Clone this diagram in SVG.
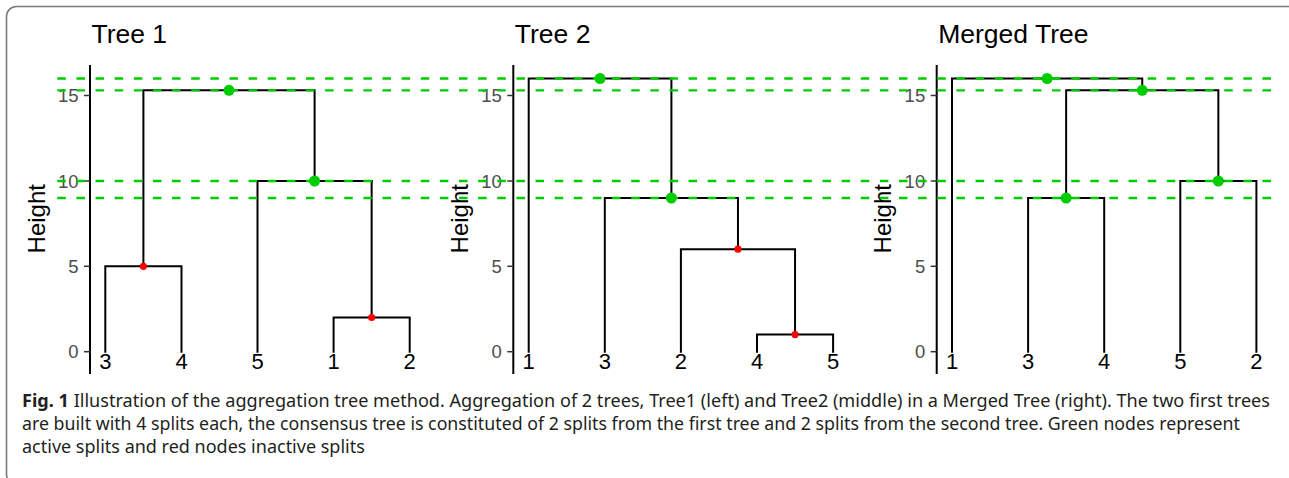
<svg xmlns="http://www.w3.org/2000/svg" width="1289" height="478" viewBox="0 0 1289 478">
<style>
.frame{fill:#fff;stroke:#7a7a7a;stroke-width:1.6}
.axis{stroke:#000;stroke-width:2;fill:none}
.tick{stroke:#333;stroke-width:1.5}
.ticklab{font-family:"Liberation Sans",Arial,sans-serif;font-size:18.5px;fill:#4d4d4d;text-anchor:end}
.title{font-family:"Liberation Sans",Arial,sans-serif;font-size:26.5px;fill:#000}
.ylab{font-family:"Liberation Sans",Arial,sans-serif;font-size:24px;fill:#000;text-anchor:middle}
.leaf{font-family:"Liberation Sans",Arial,sans-serif;font-size:22px;fill:#000;text-anchor:middle}
.branch{stroke:#000;stroke-width:2;fill:none;stroke-linecap:square}
.cut{stroke:#00cd00;stroke-width:2.3;stroke-dasharray:8.5 10.63;fill:none}
.on{fill:#00cd00}
.off{fill:#ff0000}
.cap{font-family:"Noto Sans","Open Sans",sans-serif;font-size:18px;fill:#231f20}
</style>
<rect class="frame" x="6.5" y="6.5" width="1292" height="478" rx="10"/>

<!-- axes -->
<g id="axes">
  <g id="axis1">
    <line class="axis" x1="90" y1="65" x2="90" y2="374"/>
    <line class="tick" x1="84" y1="351.7" x2="90" y2="351.7"/>
    <line class="tick" x1="84" y1="266.3" x2="90" y2="266.3"/>
    <line class="tick" x1="84" y1="181" x2="90" y2="181"/>
    <line class="tick" x1="84" y1="95.5" x2="90" y2="95.5"/>
    <text class="ticklab" x="78.5" y="358.4">0</text>
    <text class="ticklab" x="78.5" y="273">5</text>
    <text class="ticklab" x="78.5" y="187.7">10</text>
    <text class="ticklab" x="78.5" y="102.2">15</text>
    <text class="ylab" transform="translate(44.5,218.7) rotate(-90)">Height</text>
    <text class="title" x="91.5" y="43.3">Tree 1</text>
  </g>
  <g id="axis2">
    <line class="axis" x1="513.3" y1="65" x2="513.3" y2="374"/>
    <line class="tick" x1="507.3" y1="351.7" x2="513.3" y2="351.7"/>
    <line class="tick" x1="507.3" y1="266.3" x2="513.3" y2="266.3"/>
    <line class="tick" x1="507.3" y1="181" x2="513.3" y2="181"/>
    <line class="tick" x1="507.3" y1="95.5" x2="513.3" y2="95.5"/>
    <text class="ticklab" x="501.8" y="358.4">0</text>
    <text class="ticklab" x="501.8" y="273">5</text>
    <text class="ticklab" x="501.8" y="187.7">10</text>
    <text class="ticklab" x="501.8" y="102.2">15</text>
    <text class="ylab" transform="translate(467.5,218.7) rotate(-90)">Height</text>
    <text class="title" x="514.8" y="43.3">Tree 2</text>
  </g>
  <g id="axis3">
    <line class="axis" x1="936.7" y1="65" x2="936.7" y2="374"/>
    <line class="tick" x1="930.7" y1="351.7" x2="936.7" y2="351.7"/>
    <line class="tick" x1="930.7" y1="266.3" x2="936.7" y2="266.3"/>
    <line class="tick" x1="930.7" y1="181" x2="936.7" y2="181"/>
    <line class="tick" x1="930.7" y1="95.5" x2="936.7" y2="95.5"/>
    <text class="ticklab" x="925.2" y="358.4">0</text>
    <text class="ticklab" x="925.2" y="273">5</text>
    <text class="ticklab" x="925.2" y="187.7">10</text>
    <text class="ticklab" x="925.2" y="102.2">15</text>
    <text class="ylab" transform="translate(890.7,218.7) rotate(-90)">Height</text>
    <text class="title" x="938.2" y="43.3">Merged Tree</text>
  </g>
</g>

<!-- connectors (tree branches) -->
<g id="connectors">
  <g id="branches-tree1">
    <path class="branch" d="M105.3,351.7V266.3H181.5V351.7"/>
    <path class="branch" d="M333.6,351.7V317.5H409.7V351.7"/>
    <path class="branch" d="M371.65,317.5V181"/>
    <path class="branch" d="M257.5,351.7V181H371.65"/>
    <path class="branch" d="M143.4,266.3V90.3H314.6V181"/>
  </g>
  <g id="branches-tree2">
    <path class="branch" d="M757,351.7V334.6H833.1V351.7"/>
    <path class="branch" d="M680.9,351.7V249.2H795.05V334.6"/>
    <path class="branch" d="M604.8,351.7V198H737.98V249.2"/>
    <path class="branch" d="M528.7,351.7V78.5H671.4V198"/>
  </g>
  <g id="branches-merged">
    <path class="branch" d="M1028.1,351.7V198H1104.2V351.7"/>
    <path class="branch" d="M1180.3,351.7V181H1256.4V351.7"/>
    <path class="branch" d="M1066.15,198V90.3H1218.35V181"/>
    <path class="branch" d="M952,351.7V78.5H1142.25V90.3"/>
  </g>
  <g id="cut-lines">
    <line class="cut" x1="57.3" y1="78.5" x2="1272" y2="78.5"/>
    <line class="cut" x1="57.3" y1="90.3" x2="1272" y2="90.3"/>
    <line class="cut" x1="57.3" y1="181" x2="1272" y2="181"/>
    <line class="cut" x1="57.3" y1="198" x2="1272" y2="198"/>
  </g>
</g>

<!-- nodes -->
<g id="t1-n34"><circle class="off" cx="143.4" cy="266.3" r="3.6"/></g>
<g id="t1-n12"><circle class="off" cx="371.65" cy="317.5" r="3.6"/></g>
<g id="t1-n512"><circle class="on" cx="314.6" cy="181" r="5.5"/></g>
<g id="t1-root"><circle class="on" cx="229" cy="90.3" r="5.5"/></g>
<g id="t2-n45"><circle class="off" cx="795.05" cy="334.6" r="3.6"/></g>
<g id="t2-n245"><circle class="off" cx="737.98" cy="249.2" r="3.6"/></g>
<g id="t2-n3245"><circle class="on" cx="671.4" cy="198" r="5.5"/></g>
<g id="t2-root"><circle class="on" cx="600.05" cy="78.5" r="5.5"/></g>
<g id="m-n34"><circle class="on" cx="1066.15" cy="198" r="5.5"/></g>
<g id="m-n52"><circle class="on" cx="1218.35" cy="181" r="5.5"/></g>
<g id="m-n3452"><circle class="on" cx="1142.25" cy="90.3" r="5.5"/></g>
<g id="m-root"><circle class="on" cx="1047.1" cy="78.5" r="5.5"/></g>

<!-- leaves -->
<g id="leaves-tree1">
  <text class="leaf" x="105.3" y="368.8">3</text>
  <text class="leaf" x="181.5" y="368.8">4</text>
  <text class="leaf" x="257.5" y="368.8">5</text>
  <text class="leaf" x="333.6" y="368.8">1</text>
  <text class="leaf" x="409.7" y="368.8">2</text>
</g>
<g id="leaves-tree2">
  <text class="leaf" x="528.7" y="368.8">1</text>
  <text class="leaf" x="604.8" y="368.8">3</text>
  <text class="leaf" x="680.9" y="368.8">2</text>
  <text class="leaf" x="757" y="368.8">4</text>
  <text class="leaf" x="833.1" y="368.8">5</text>
</g>
<g id="leaves-merged">
  <text class="leaf" x="952" y="368.8">1</text>
  <text class="leaf" x="1028.1" y="368.8">3</text>
  <text class="leaf" x="1104.2" y="368.8">4</text>
  <text class="leaf" x="1180.3" y="368.8">5</text>
  <text class="leaf" x="1256.4" y="368.8">2</text>
</g>

<!-- caption -->
<g id="caption">
  <text class="cap" x="22" y="406.8" textLength="1248" lengthAdjust="spacingAndGlyphs"><tspan font-weight="bold">Fig. 1</tspan> Illustration of the aggregation tree method. Aggregation of 2 trees, Tree1 (left) and Tree2 (middle) in a Merged Tree (right). The two first trees</text>
  <text class="cap" x="22" y="430" textLength="1218" lengthAdjust="spacingAndGlyphs">are built with 4 splits each, the consensus tree is constituted of 2 splits from the first tree and 2 splits from the second tree. Green nodes represent</text>
  <text class="cap" x="22" y="453.2">active splits and red nodes inactive splits</text>
</g>
</svg>
